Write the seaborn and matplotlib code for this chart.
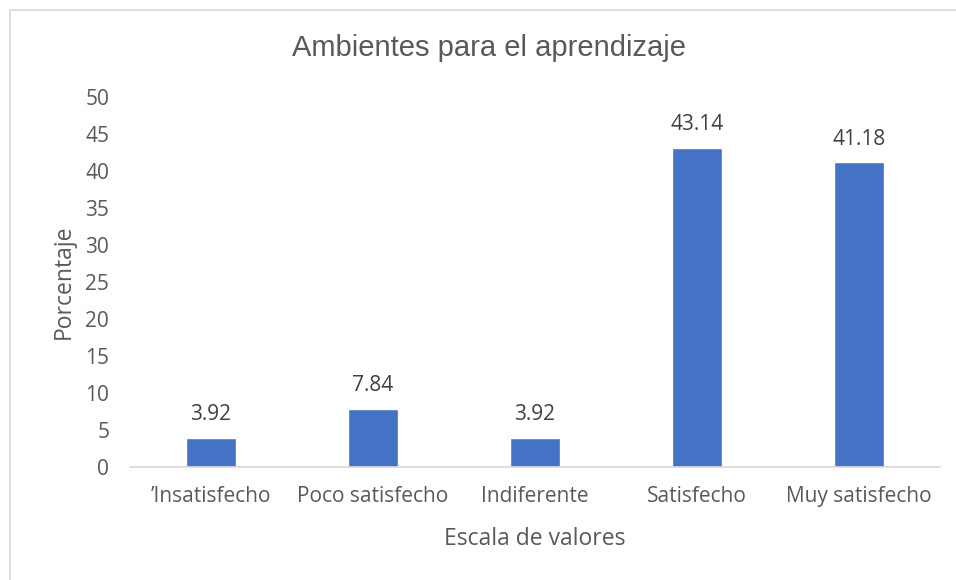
import matplotlib
matplotlib.use("Agg")
import matplotlib.pyplot as plt
import seaborn as sns
import pandas as pd
from matplotlib.lines import Line2D

categorias = ["\u2019Insatisfecho", "Poco satisfecho", "Indiferente", "Satisfecho", "Muy satisfecho"]
porcentajes = [3.92, 7.84, 3.92, 43.14, 41.18]
ticks_y = list(range(0, 55, 5))

df = pd.DataFrame({"categoria": categorias, "porcentaje": porcentajes})

sns.set_style("white")
plt.rcParams["font.family"] = ["Open Sans", "DejaVu Sans"]

fig = plt.figure(figsize=(9.56, 5.8), dpi=100)
ax = fig.add_axes([0.136, 0.195, 0.847, 0.638])

sns.barplot(data=df, x="categoria", y="porcentaje", color="#4472C4",
            width=0.31, saturation=1, ax=ax)

for i, v in enumerate(porcentajes):
    ax.text(i, v + 1.7, f"{v:.2f}", ha="center", va="bottom",
            fontsize=15, color="#404040")

ax.set_ylim(0, 50)
ax.set_xlim(-0.5, len(categorias) - 0.5)
ax.set_yticks(ticks_y)
ax.tick_params(axis="both", length=0, labelsize=15, colors="#595959")
ax.tick_params(axis="x", pad=14)
ax.tick_params(axis="y", pad=15)
for s in ["top", "right", "left"]:
    ax.spines[s].set_visible(False)
ax.spines["bottom"].set_color("#D9D9D9")
ax.spines["bottom"].set_linewidth(1.2)

ax.set_xlabel("Escala de valores", fontsize=16.5, color="#595959", labelpad=14)
ax.set_ylabel("Porcentaje", fontsize=16.5, color="#595959", labelpad=7)

fig.text(0.512, 0.917, "Ambientes para el aprendizaje", ha="center", va="center",
         fontsize=21, color="#595959", family=["Liberation Sans", "DejaVu Sans"])

# outline of the chart area (only left and top visible in the picture)
fig.add_artist(Line2D([0.0105, 0.0105], [0.0, 0.983], color="#D9D9D9", lw=1.2,
                      transform=fig.transFigure))
fig.add_artist(Line2D([0.0105, 1.0], [0.983, 0.983], color="#D9D9D9", lw=1.2,
                      transform=fig.transFigure))

fig.savefig("out.png", dpi=100)
